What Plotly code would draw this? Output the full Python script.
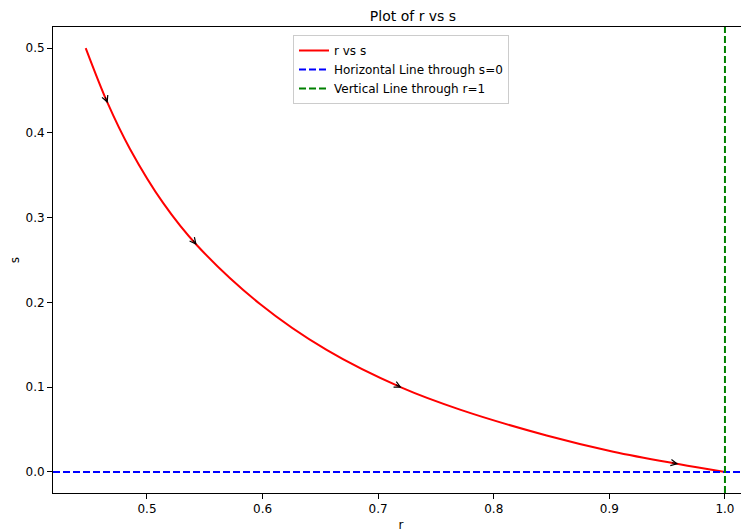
import numpy as np
import plotly.graph_objects as go

# Curve values
r_vals = [0.447, 0.466, 0.4853, 0.5141, 0.543, 0.5978, 0.6554, 0.7203,
          0.7708, 0.8457, 0.9034, 0.9596, 1.0]
s_vals = [0.500, 0.435, 0.381, 0.317, 0.2677, 0.1981, 0.1439, 0.0994,
          0.0735, 0.0430, 0.0239, 0.0094, 0.0]

# Direction arrows along the curve
arrow_r = [0.466, 0.543, 0.7203, 0.9596]
arrow_s = [0.435, 0.2677, 0.0994, 0.0094]

x_range = [0.4187, 1.0208]
y_range = [-0.0248, 0.5248]
x_ticks = [0.5, 0.6, 0.7, 0.8, 0.9, 1.0]
y_ticks = [0.0, 0.1, 0.2, 0.3, 0.4, 0.5]
h_line_s = 0.0
v_line_r = 1.0

FONT = "DejaVu Sans"
W, H = 741, 524
ML, MR, MT, MB = 45, 0, 19, 39
px_per_x = (W - ML - MR) / (x_range[1] - x_range[0])
px_per_y = (H - MT - MB) / (y_range[1] - y_range[0])

fig = go.Figure()
fig.add_trace(go.Scatter(x=r_vals, y=s_vals, mode="lines", name="r vs s",
                         line=dict(color="red", width=2, shape="spline", smoothing=1.0)))
fig.add_trace(go.Scatter(x=x_range, y=[h_line_s, h_line_s], mode="lines",
                         name="Horizontal Line through s=0",
                         line=dict(color="blue", width=2, dash="7px,3px")))
fig.add_trace(go.Scatter(x=[v_line_r, v_line_r], y=y_range, mode="lines",
                         name="Vertical Line through r=1",
                         line=dict(color="green", width=2, dash="7px,3px")))

# arrowheads: tangent direction taken from the curve, short tail in pixels
r_arr = np.array(r_vals)
s_arr = np.array(s_vals)
for ra, sa in zip(arrow_r, arrow_s):
    tr = ra - 0.004
    ts = float(np.interp(tr, r_arr, s_arr))
    dx = (ra - tr) * px_per_x
    dy = -(sa - ts) * px_per_y  # screen y grows downward
    n = np.hypot(dx, dy)
    L = 8.0
    fig.add_annotation(x=ra, y=sa, ax=-dx / n * L, ay=-dy / n * L, xref="x", yref="y",
                       text="", showarrow=True,
                       arrowhead=5, arrowsize=1.1, arrowwidth=1.1,
                       arrowcolor="black", standoff=0)

fig.update_layout(
    width=W, height=H,
    margin=dict(l=ML, r=MR, t=MT, b=MB),
    paper_bgcolor="white", plot_bgcolor="white",
    font=dict(family=FONT, size=12, color="black"),
    title=dict(text="Plot of r vs s", x=405 / W, xanchor="center",
               y=1.0 - 3 / H, yanchor="top", yref="container", pad=dict(t=0, b=0),
               font=dict(family=FONT, size=14, color="black")),
    showlegend=True,
    legend=dict(x=(293 - 53) / 696, y=(493 - 35) / 466, xanchor="left", yanchor="top",
                bgcolor="white", bordercolor="#cccccc", borderwidth=1,
                font=dict(family=FONT, size=12, color="black"),
                itemwidth=30, tracegroupgap=0),
)
fig.update_xaxes(range=x_range, tickvals=x_ticks, ticktext=[f"{v:.1f}" for v in x_ticks],
                 showgrid=False, zeroline=False, showline=True, linecolor="black",
                 linewidth=1, mirror=True, ticks="outside", ticklen=5, tickwidth=1,
                 tickcolor="black", automargin=False,
                 title=dict(text="r", standoff=11, font=dict(family=FONT, size=12)))
fig.update_yaxes(range=y_range, tickvals=y_ticks, ticktext=[f"{v:.1f}" for v in y_ticks],
                 showgrid=False, zeroline=False, showline=True, linecolor="black",
                 linewidth=1, ticks="outside", ticklen=5, tickwidth=1,
                 tickcolor="black", automargin=False,
                 title=dict(text="s", standoff=5, font=dict(family=FONT, size=12)))

fig.write_html("out.html")
